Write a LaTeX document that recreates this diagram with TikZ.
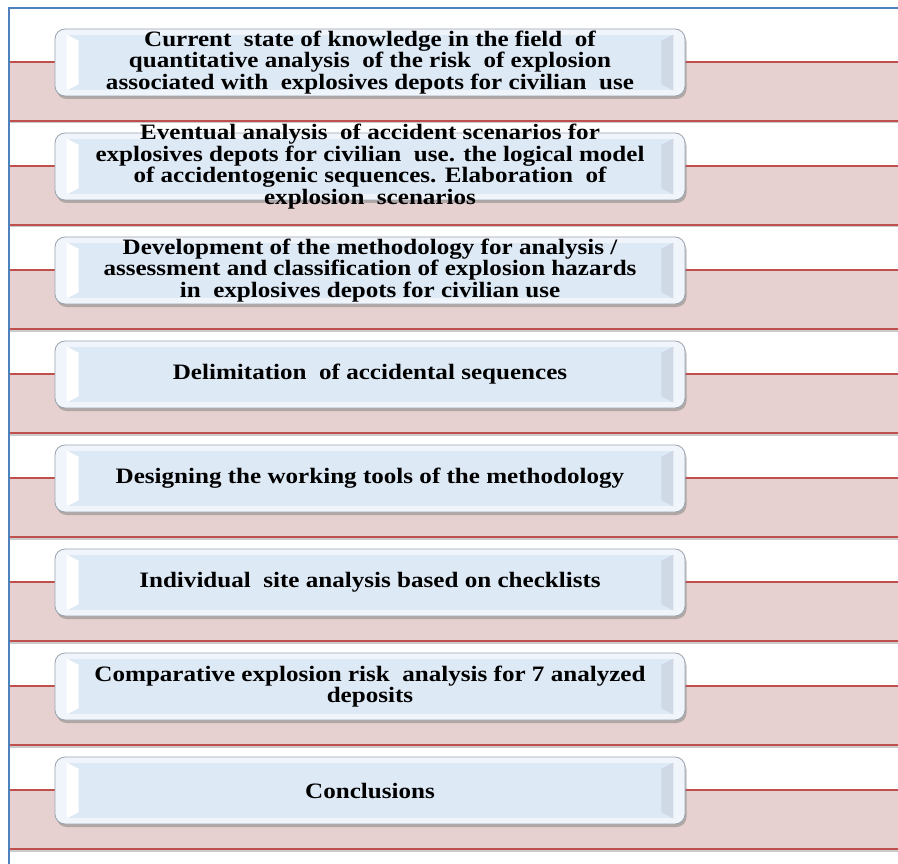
\documentclass[tikz,border=0pt]{standalone}
\usepackage{fontspec}
\setmainfont[FakeStretch=1.14]{Liberation Serif}
\usetikzlibrary{shadows,calc}
\definecolor{frameblue}{HTML}{4F81BD}
\definecolor{barred}{HTML}{C0504D}
\definecolor{barfill}{HTML}{E6D0D0}
\definecolor{boxfill}{HTML}{DEE9F6}
\definecolor{boxrim}{HTML}{F0F5FB}
\definecolor{boxedge}{HTML}{9AA3AE}
\definecolor{bevdark}{HTML}{CFD9E6}
\tikzset{
  barnode/.style={rectangle, inner sep=0pt, minimum width=889pt, minimum height=59pt,
    fill=barfill, draw=none,
    drop shadow={shadow xshift=0pt, shadow yshift=-2.5pt, fill=black!45, opacity=.45}},
  barline/.style={draw=barred, line width=1.6pt},
  boxnode/.style={rectangle, rounded corners=10pt, inner sep=0pt, minimum width=630pt,
    minimum height=67pt, draw=boxedge, line width=0.8pt, fill=boxrim,
    drop shadow={shadow xshift=1.5pt, shadow yshift=-3pt, fill=black!50, opacity=.5}},
  boxinner/.style={fill=boxfill, draw=none},
  bevlight/.style={fill=white, draw=none},
  bevdarkst/.style={fill=bevdark, draw=none},
  stagetext/.style={align=center, inner sep=0pt,
    font=\bfseries\fontsize{22}{21.5}\selectfont},
  framestyle/.style={draw=frameblue, line width=1.6pt}
}
\newcommand\drawstage[3]{%
  \node[barnode] (r#1) at (453.5,#2+62.5) {};
  \draw[barline] (r#1.north west) -- (r#1.north east);
  \draw[barline] (r#1.south west) -- (r#1.south east);
  \node[boxnode] (b#1) at (370,#2+33.5) {};
  \fill[boxinner] ($(b#1.north west)+(12,6)$) rectangle ($(b#1.south east)+(-12,-6)$);
  \fill[bevlight] ($(b#1.north west)+(12,6)$) -- ($(b#1.north west)+(24,12)$) --
     ($(b#1.south west)+(24,-12)$) -- ($(b#1.south west)+(12,-6)$) -- cycle;
  \fill[bevdarkst] ($(b#1.north east)+(-12,6)$) -- ($(b#1.north east)+(-24,12)$) --
     ($(b#1.south east)+(-24,-12)$) -- ($(b#1.south east)+(-12,-6)$) -- cycle;
  \node[stagetext] (t#1) at (b#1.center) {#3};
}
\begin{document}
\begin{tikzpicture}[x=1pt,y=-1pt]
\useasboundingbox (0,0) rectangle (898,864);
\fill[white] (0,0) rectangle (898,864);
\drawstage{1}{29}{Current\ \ state of knowledge in the field\ \ of\\quantitative analysis\ \ of the risk\ \ of explosion\\associated with\ \ explosives depots for civilian\ \ use}
\drawstage{2}{133}{Eventual analysis\ \ of accident scenarios for\\explosives depots for civilian\ \ use. the logical model\\of accidentogenic sequences. Elaboration\ \ of\\explosion\ \ scenarios}
\drawstage{3}{237}{Development of the methodology for analysis /\\assessment and classification of explosion hazards\\in\ \ explosives depots for civilian use}
\drawstage{4}{341}{Delimitation\ \ of accidental sequences}
\drawstage{5}{445}{Designing the working tools of the methodology}
\drawstage{6}{549}{Individual\ \ site analysis based on checklists}
\drawstage{7}{653}{Comparative explosion risk\ \ analysis for 7 analyzed\\deposits}
\drawstage{8}{757}{Conclusions}
\coordinate (fbot) at (9,864);
\coordinate (ftop) at (9,8);
\coordinate (fright) at (898,8);
\draw[framestyle] (fbot) -- (ftop) -- (fright);
\end{tikzpicture}
\end{document}
